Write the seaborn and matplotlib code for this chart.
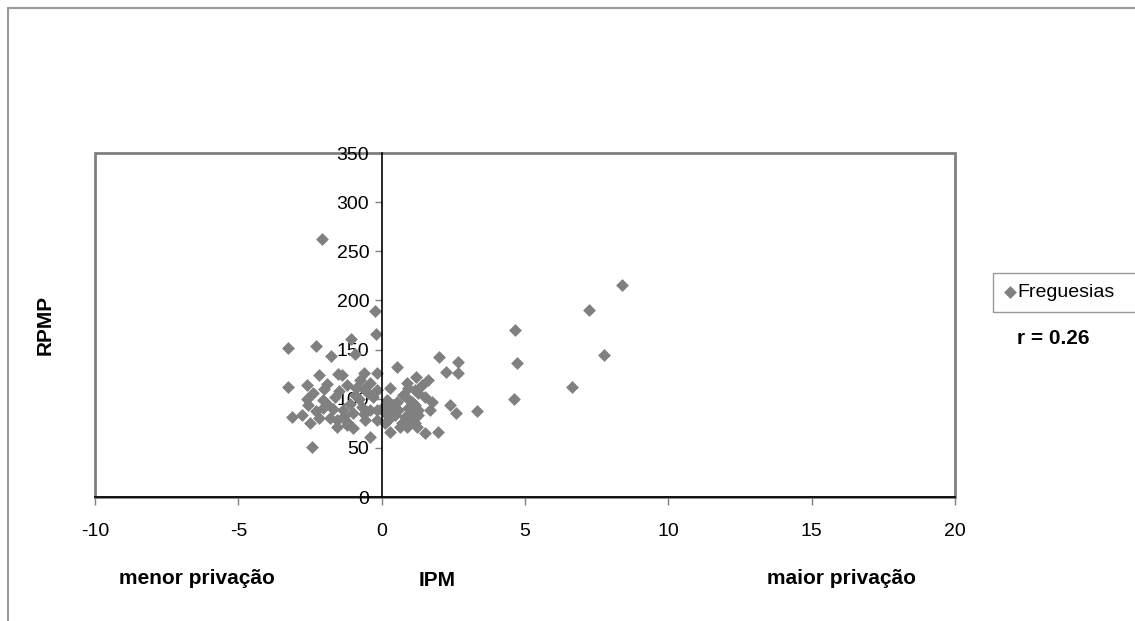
import matplotlib
matplotlib.use("Agg")
import matplotlib.pyplot as plt
from matplotlib.patches import Rectangle
from matplotlib.lines import Line2D
import numpy as np
import pandas as pd
import seaborn as sns

# IPM (x) and RPMP (y) per freguesia
ipm = [8.39, 7.22, 4.66, 4.73, 7.76, 6.64, 4.62, 3.31,
       -2.09, -0.22, -0.20, -3.26, -2.30, -1.07, -1.77, -0.93, 0.52, 2.01, 2.67, 2.24, 2.67, 1.63, 1.19,
       -2.19, -1.51, -0.62, -0.17, -3.26, -2.62, -2.38, -1.90, -1.22, -0.76, -0.41, -1.40,
       -2.56, -2.04, -1.57, -1.22, -0.99, -0.41, -0.29, -3.13, -2.79, -2.50, -2.44, -0.41,
       -1.63, -0.93, -0.47, -2.04, -1.34, -0.70, -1.80, -0.58, -1.57, -1.22,
       -0.17, -0.17, -0.17,
       -2.30, -1.90, -1.10, -0.80, -1.50, -2.00, -0.60, -2.20, -1.00, -0.60, -1.70, -2.60, -1.30, -0.90,
       0.29, 0.87, 1.74, 2.38, 2.59, 0.29, 0.29, 1.51, 1.97, 0.87, 1.22, 1.68, 0.64,
       0.93, 1.16, 1.28, 0.75, 0.87, 1.05, 1.16, 0.93, 1.28, 1.05, 0.81, 0.93, 1.16, 0.70,
       0.17, 0.06, 0.29, 0.12, 0.41, 0.46, 0.23, 0.12, 0.52, 0.58, 1.28, 1.40, 1.51]
rpmp = [215.7, 190.0, 170.0, 136.6, 144.5, 112.0, 99.7, 87.5,
        262.0, 189.5, 166.0, 152.0, 153.6, 160.7, 143.0, 146.0, 132.5, 142.0, 137.0, 127.5, 126.5, 119.0, 122.0,
        124.0, 125.0, 126.5, 126.0, 111.6, 114.0, 105.5, 115.0, 114.0, 119.0, 115.7, 124.0,
        93.6, 98.7, 78.3, 76.6, 85.0, 88.5, 102.0, 81.7, 83.4, 75.0, 51.2, 61.3,
        102.0, 103.8, 105.5, 90.2, 88.5, 91.9, 80.0, 78.3, 71.5, 73.2,
        108.8, 88.5, 78.3,
        88.0, 95.0, 95.0, 100.0, 108.0, 110.0, 110.0, 80.0, 70.0, 84.0, 90.0, 100.0, 82.0, 111.0,
        110.6, 115.7, 97.0, 93.6, 85.8, 91.9, 66.4, 64.8, 65.8, 71.5, 71.5, 89.0, 71.5,
        110.6, 108.8, 105.5, 103.8, 100.4, 97.0, 93.6, 90.2, 88.5, 83.4, 81.7, 78.3, 75.0, 75.0,
        98.7, 91.9, 88.5, 85.2, 93.6, 83.4, 78.3, 75.0, 97.0, 88.5, 83.4, 114.0, 102.0]

x_ticks = [-10, -5, 0, 5, 10, 15, 20]
y_ticks = [0, 50, 100, 150, 200, 250, 300, 350]

df = pd.DataFrame({"IPM": ipm, "RPMP": rpmp})

sns.set_style("white")
plt.rcParams["font.family"] = ["Liberation Sans", "DejaVu Sans"]
plt.rcParams["axes.unicode_minus"] = False
plt.rcParams["text.color"] = "black"

fig = plt.figure(figsize=(11.35, 6.21), dpi=100)
ax = fig.add_axes([95 / 1135, 1 - 497 / 621, 860 / 1135, 344 / 621])

sns.scatterplot(data=df, x="IPM", y="RPMP", marker="D", s=36, color="#808080",
                edgecolor="#808080", linewidth=0.5, label="Freguesias", ax=ax, zorder=3)

ax.set_xlim(-10, 20)
ax.set_ylim(0, 350)
ax.set_xticks(x_ticks)
ax.set_yticks(y_ticks)
ax.set_xlabel("")
ax.set_ylabel("")

for s in ["top", "right"]:
    ax.spines[s].set_visible(False)
ax.spines["left"].set_position(("data", 0))
ax.spines["left"].set_color("black")
ax.spines["left"].set_linewidth(1.2)
ax.spines["left"].set_zorder(4)
ax.spines["bottom"].set_color("black")
ax.spines["bottom"].set_linewidth(1.2)
ax.add_patch(Rectangle((0, 0), 1, 1, transform=ax.transAxes, fill=False,
                       ec="#808080", lw=2, zorder=0.5, clip_on=False))

ax.tick_params(axis="x", direction="out", length=6, width=1, color="#808080",
               labelcolor="black", pad=13, labelsize=14, bottom=True)
ax.tick_params(axis="y", direction="out", length=5, width=1, color="#808080",
               labelcolor="black", pad=4, labelsize=14, left=True)

# axis titles
fig.text(197 / 1135, 1 - 578 / 621, "menor privação", fontsize=15, fontweight="bold",
         ha="center", va="center", color="black")
fig.text(437 / 1135, 1 - 581 / 621, "IPM", fontsize=15, fontweight="bold",
         ha="center", va="center", color="black")
fig.text(842 / 1135, 1 - 578 / 621, "maior privação", fontsize=15, fontweight="bold",
         ha="center", va="center", color="black")
fig.text(45 / 1135, 1 - 325 / 621, "RPMP", fontsize=15, fontweight="bold",
         ha="center", va="center", rotation=90, color="black")
fig.text(1053 / 1135, 1 - 338 / 621, "r = 0.26", fontsize=15, fontweight="bold",
         ha="center", va="center", color="black")

leg = ax.legend(loc="upper left", mode="expand",
                bbox_to_anchor=(993 / 1135, 1 - 314 / 621, 150 / 1135, 41 / 621),
                bbox_transform=fig.transFigure, frameon=True, fancybox=False,
                fontsize=14, handlelength=0.6, handletextpad=0.1, borderpad=0.55,
                borderaxespad=0)
leg.get_frame().set_edgecolor("#808080")
leg.get_frame().set_linewidth(1)
for t in leg.get_texts():
    t.set_color("black")

# outer chart border
fig.add_artist(Line2D([8 / 1135, 8 / 1135], [0, 1 - 8 / 621], transform=fig.transFigure,
                      color="#999999", lw=1.5))
fig.add_artist(Line2D([8 / 1135, 1], [1 - 8 / 621, 1 - 8 / 621], transform=fig.transFigure,
                      color="#999999", lw=1.5))

fig.savefig("out.png", dpi=100)
